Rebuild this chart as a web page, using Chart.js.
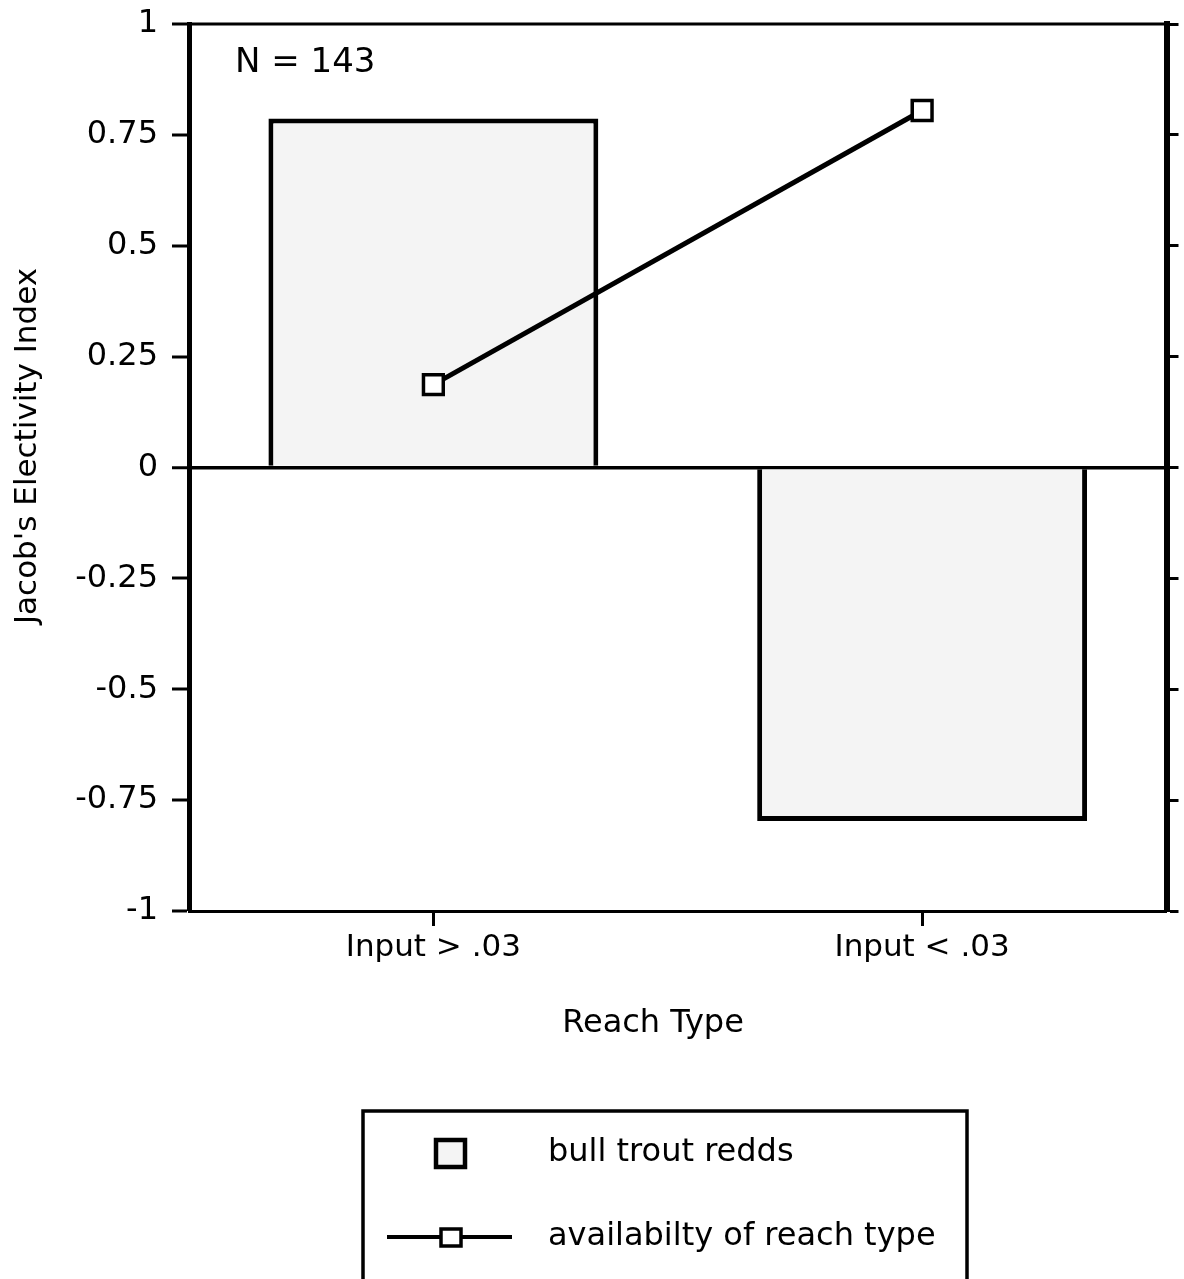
<!DOCTYPE html>
<html>
<head>
<meta charset="utf-8">
<script src="https://cdn.jsdelivr.net/npm/chart.js@4.4.1/dist/chart.umd.min.js"></script>
<style>
  body { margin: 0; background: #fff; }
  #wrap { width: 1184px; height: 1279px; }
</style>
</head>
<body>
<div id="wrap"><canvas id="myChart"></canvas></div>
<script>
const reachTypes = ['Input > .03', 'Input < .03'];
const reddsIndex = [0.787, -0.797];
const availability = [0.187, 0.805];
const yTicks = [1, 0.75, 0.5, 0.25, 0, -0.25, -0.5, -0.75, -1];
const seriesNames = ['bull trout redds', 'availabilty of reach type'];
const xTitle = 'Reach Type';
const yTitle = "Jacob's Electivity Index";
const sampleNote = 'N = 143';

Chart.defaults.font.family = "'DejaVu Sans', sans-serif";
Chart.defaults.color = '#000';

const ctx = document.getElementById('myChart');
const barFill = '#f4f4f4';

// top edge of the frame, axis titles, the N note and the boxed legend
const extras = {
  id: 'extras',
  afterDraw(chart) {
    const c = chart.ctx;
    const a = chart.chartArea;
    c.save();
    c.strokeStyle = '#000';
    c.lineWidth = 3;
    c.beginPath();
    c.moveTo(a.left, a.top);
    c.lineTo(a.right, a.top);
    c.stroke();

    c.fillStyle = '#000';
    c.textBaseline = 'middle';
    c.font = "34px 'DejaVu Sans'";
    c.fillText(sampleNote, 235, 63);

    c.textAlign = 'center';
    c.font = "32px 'DejaVu Sans'";
    c.fillText(xTitle, 653, 1024);
    c.save();
    c.translate(28, 446);
    c.rotate(-Math.PI / 2);
    c.font = "31px 'DejaVu Sans'";
    c.fillText(yTitle, 0, 0);
    c.restore();
    c.textAlign = 'left';

    // legend box
    c.lineWidth = 3.5;
    c.strokeRect(363, 1111, 604, 220);

    c.lineWidth = 4.5;
    c.fillStyle = barFill;
    c.fillRect(436, 1140, 29, 27);
    c.strokeRect(436, 1140, 29, 27);

    c.lineWidth = 4;
    c.beginPath();
    c.moveTo(387, 1237);
    c.lineTo(512, 1237);
    c.stroke();
    c.fillStyle = '#fff';
    c.lineWidth = 3.5;
    c.fillRect(441, 1229, 20, 17);
    c.strokeRect(441, 1229, 20, 17);

    c.fillStyle = '#000';
    c.font = "32px 'DejaVu Sans'";
    c.fillText(seriesNames[0], 548, 1153);
    c.fillText(seriesNames[1], 548, 1237);
    c.restore();
  }
};

const setTicks = scale => { scale.ticks = yTicks.map(v => ({ value: v })); };
const fixY = w => s => { s.width = w; s.paddingTop = 0; s.paddingBottom = 0; };

new Chart(ctx, {
  type: 'bar',
  data: {
    labels: reachTypes,
    datasets: [{
      type: 'line',
      label: seriesNames[1],
      data: availability,
      order: 0,
      borderColor: '#000',
      borderWidth: 5,
      tension: 0,
      pointStyle: 'rect',
      pointRadius: 14,
      pointBorderWidth: 3.5,
      pointBackgroundColor: '#fff',
      pointBorderColor: '#000'
    }, {
      label: seriesNames[0],
      data: reddsIndex,
      order: 1,
      backgroundColor: barFill,
      borderColor: '#000',
      borderWidth: 5,
      borderSkipped: 'start',
      barPercentage: 0.675,
      categoryPercentage: 1
    }]
  },
  options: {
    responsive: true,
    maintainAspectRatio: false,
    animation: false,
    layout: { padding: { top: 24, left: 0, right: 0, bottom: 0 } },
    plugins: { legend: { display: false }, tooltip: { enabled: false } },
    scales: {
      x: {
        offset: true,
        grid: { offset: false, drawOnChartArea: false, tickLength: 15, tickWidth: 3, tickColor: '#000', color: '#000' },
        border: { color: '#000', width: 3 },
        ticks: { font: { size: 31 }, padding: 3, maxRotation: 0 },
        afterFit: s => { s.height = 368; }
      },
      y: {
        min: -1,
        max: 1,
        afterBuildTicks: setTicks,
        grid: {
          color: c => (c.tick && c.tick.value === 0 ? '#000' : 'rgba(0,0,0,0)'),
          lineWidth: c => (c.tick && c.tick.value === 0 ? 3.5 : 0),
          tickColor: '#000',
          tickWidth: 3,
          tickLength: 17
        },
        border: { color: '#000', width: 5 },
        ticks: { font: { size: 32 }, padding: 14, callback: v => String(v) },
        afterFit: fixY(189)
      },
      y2: {
        position: 'right',
        min: -1,
        max: 1,
        afterBuildTicks: setTicks,
        ticks: { display: false },
        grid: { drawOnChartArea: false, tickLength: 12, tickWidth: 3, tickColor: '#000', color: '#000' },
        border: { color: '#000', width: 6 },
        afterFit: fixY(12)
      }
    }
  },
  plugins: [extras]
});
</script>
</body>
</html>
